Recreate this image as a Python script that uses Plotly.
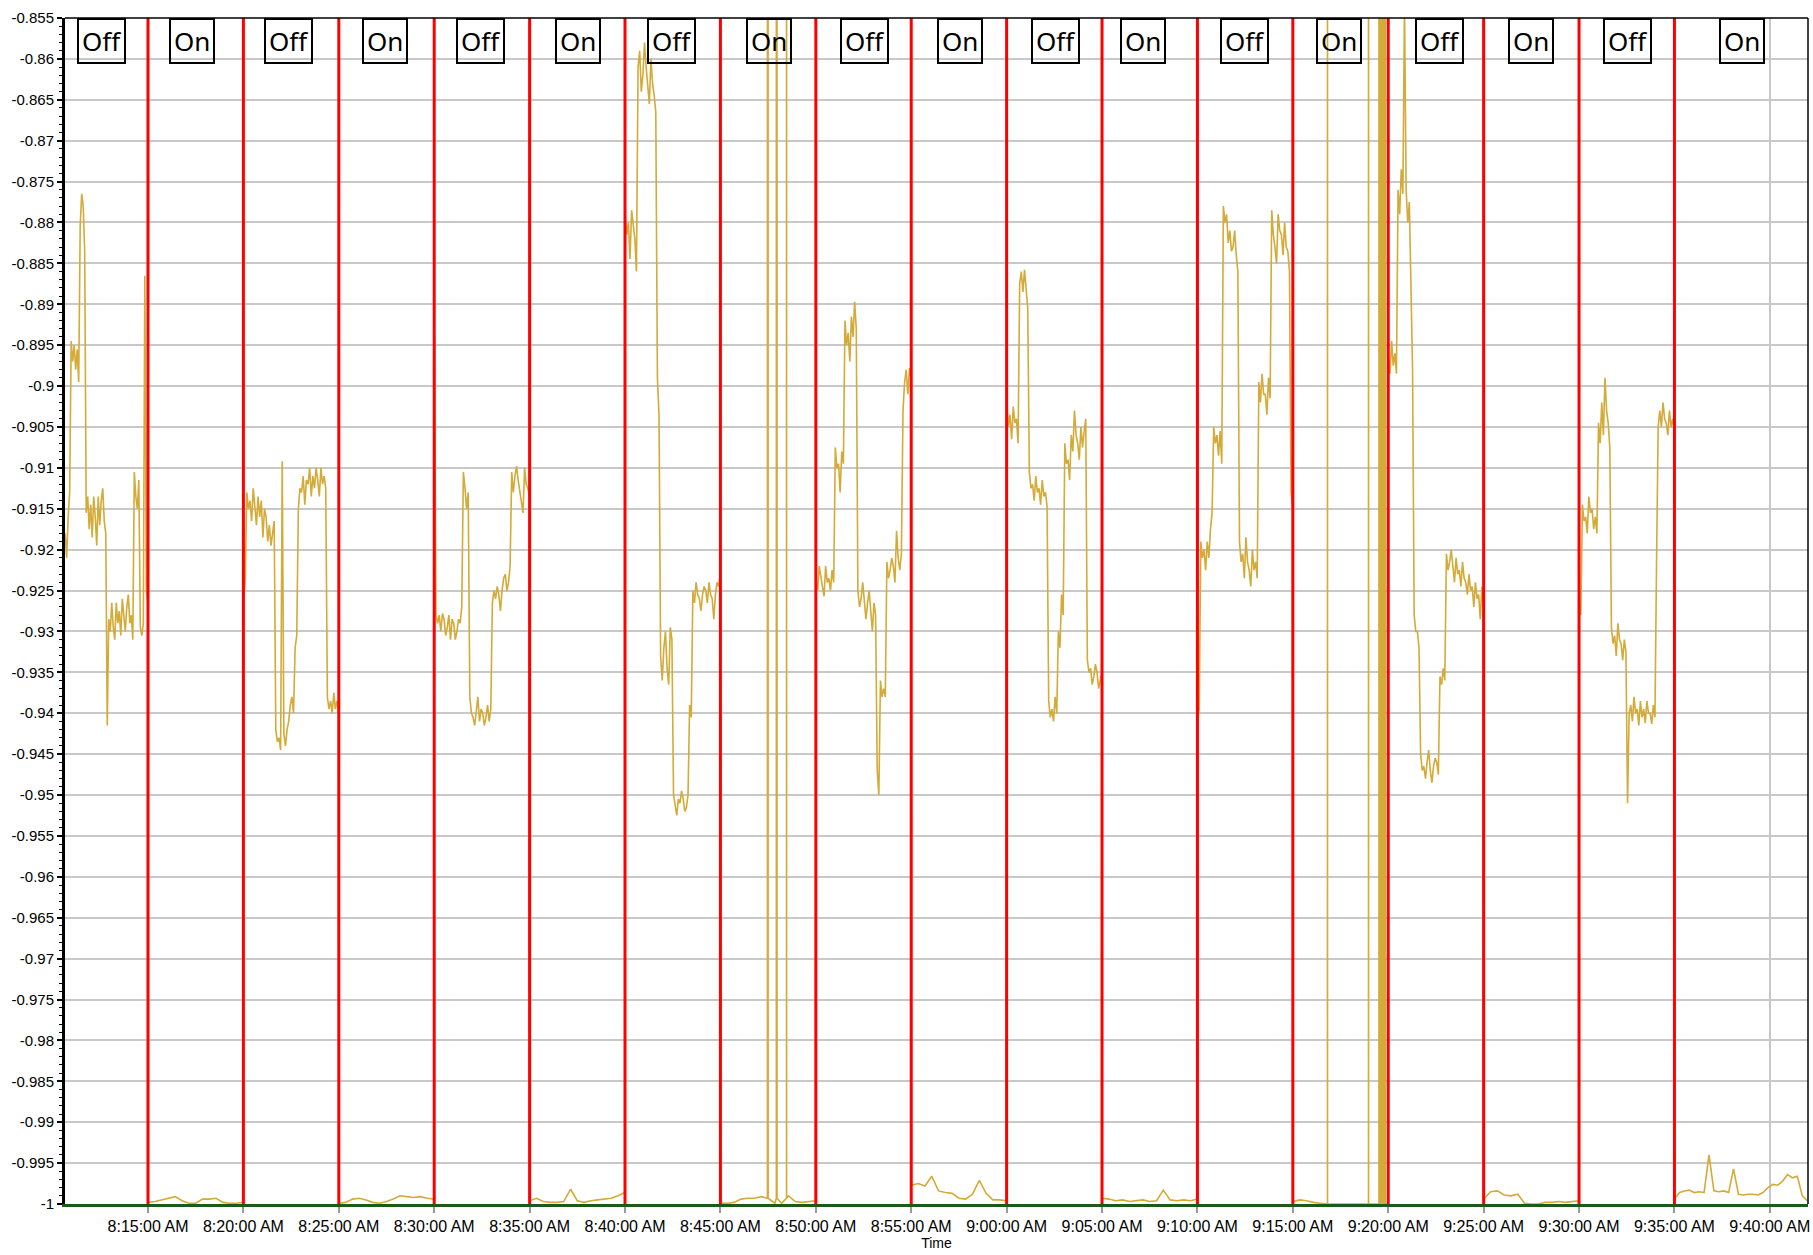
import numpy as np
import pandas as pd
import plotly.graph_objects as go

DATE = "2024-01-01 "

# ---- segment boundaries (Off / On periods) ----
boundaries = ["08:10:39", "08:15:00", "08:20:00", "08:25:00", "08:30:00", "08:35:00",
              "08:40:00", "08:45:00", "08:50:00", "08:55:00", "09:00:00", "09:05:00",
              "09:10:00", "09:15:00", "09:20:00", "09:25:00", "09:30:00", "09:35:00",
              "09:41:58"]
switch_times = boundaries[1:-1]

# ---- series values per period ----
off1 = [-0.918, -0.921, -0.916, -0.913, -0.8945, -0.897, -0.895, -0.898, -0.8955, -0.8995,
        -0.8805, -0.8765, -0.878, -0.8835, -0.9155, -0.9135, -0.9175, -0.9145, -0.9185, -0.9135,
        -0.916, -0.9195, -0.9135, -0.917, -0.914, -0.9125, -0.9165, -0.918, -0.9415, -0.9285,
        -0.930, -0.9265, -0.9295, -0.931, -0.9265, -0.929, -0.9275, -0.9305, -0.926, -0.9285,
        -0.930, -0.927, -0.9255, -0.929, -0.928, -0.931, -0.9105, -0.9135, -0.915, -0.9115,
        -0.9295, -0.9305, -0.929, -0.8865, -0.925, -0.9265]
on1 = [-0.9998, -0.9997, -0.9995, -0.9993, -0.9991, -0.9996, -0.9999, -0.9999, -0.9994,
       -0.9994, -0.9993, -0.9998, -0.9999, -0.9999, -0.9998]
off2 = [-0.926, -0.924, -0.913, -0.915, -0.914, -0.9165, -0.9125, -0.915, -0.917, -0.9135,
        -0.916, -0.914, -0.9185, -0.915, -0.916, -0.919, -0.917, -0.9195, -0.918, -0.9165,
        -0.942, -0.9435, -0.943, -0.9445, -0.9092, -0.9425, -0.944, -0.942, -0.941, -0.939,
        -0.938, -0.940, -0.932, -0.9305, -0.915, -0.9125, -0.913, -0.911, -0.9145, -0.9115,
        -0.912, -0.910, -0.9135, -0.911, -0.9125, -0.910, -0.9115, -0.9135, -0.910, -0.912,
        -0.911, -0.9125, -0.938, -0.9395, -0.9385, -0.940, -0.9375, -0.9395, -0.9385, -0.940]
on2 = [-0.9999, -0.9998, -0.9994, -0.9993, -0.9995, -0.9998, -0.9999, -0.9997, -0.9994,
       -0.9990, -0.9991, -0.9992, -0.9991, -0.9993, -0.9994]
off3 = [-0.8935, -0.928, -0.929, -0.928, -0.930, -0.9278, -0.9285, -0.9305, -0.9295, -0.928,
        -0.931, -0.9285, -0.929, -0.931, -0.930, -0.9285, -0.929, -0.927, -0.9105, -0.9125,
        -0.915, -0.913, -0.938, -0.940, -0.9405, -0.9415, -0.9395, -0.938, -0.941, -0.9395,
        -0.940, -0.9415, -0.9405, -0.939, -0.941, -0.9395, -0.9265, -0.925, -0.926, -0.9245,
        -0.9255, -0.9275, -0.925, -0.9235, -0.923, -0.925, -0.924, -0.922, -0.9105, -0.913,
        -0.911, -0.9098, -0.9115, -0.913, -0.914, -0.9155, -0.910, -0.912, -0.9125, -0.9135]
on3 = [-0.9996, -0.9993, -0.9997, -0.9998, -0.9998, -0.9997, -0.9982, -0.9996, -0.9998,
       -0.9996, -0.9995, -0.9994, -0.9993, -0.9990, -0.9986]
off4 = [-0.879, -0.8815, -0.880, -0.8845, -0.8785, -0.8805, -0.882, -0.886, -0.861, -0.859,
        -0.864, -0.862, -0.858, -0.861, -0.863, -0.8655, -0.860, -0.863, -0.8645, -0.8665,
        -0.899, -0.9035, -0.933, -0.936, -0.932, -0.930, -0.9345, -0.9365, -0.9295, -0.931,
        -0.950, -0.9515, -0.9525, -0.9505, -0.951, -0.9495, -0.9505, -0.952, -0.9515, -0.950,
        -0.939, -0.9405, -0.925, -0.9265, -0.924, -0.9255, -0.926, -0.9275, -0.9255, -0.9245,
        -0.925, -0.9265, -0.924, -0.9255, -0.926, -0.9285, -0.9255, -0.924, -0.9245, -0.923]
on4 = [-0.9999, -0.9999, -0.9998, -0.9994, -0.9993, -0.9993, -0.9991, -0.9993, -0.9999,
       -0.9999, -0.9990, -0.9997, -0.9998, -0.9997, -0.9996]
off5 = [-0.9235, -0.925, -0.922, -0.9235, -0.9245, -0.9257, -0.922, -0.924, -0.9235, -0.925,
        -0.9225, -0.924, -0.9075, -0.910, -0.9095, -0.913, -0.908, -0.9095, -0.892, -0.895,
        -0.8935, -0.897, -0.8915, -0.894, -0.8897, -0.893, -0.925, -0.927, -0.926, -0.924,
        -0.926, -0.9285, -0.9265, -0.925, -0.9275, -0.930, -0.9265, -0.928, -0.947, -0.950,
        -0.936, -0.938, -0.937, -0.938, -0.9215, -0.9235, -0.9225, -0.921, -0.922, -0.924,
        -0.9177, -0.921, -0.9225, -0.9205, -0.903, -0.8995, -0.898, -0.901, -0.8978, -0.899]
on5 = [-0.9977, -0.9975, -0.9978, -0.9966, -0.9984, -0.9986, -0.9987, -0.9993, -0.9994,
       -0.9988, -0.9971, -0.9987, -0.9995, -0.9995, -0.9996]
off6 = [-0.902, -0.905, -0.9035, -0.9065, -0.9025, -0.9045, -0.904, -0.907, -0.8875, -0.886,
        -0.8885, -0.8858, -0.888, -0.8905, -0.9105, -0.9125, -0.912, -0.914, -0.911, -0.913,
        -0.9125, -0.9145, -0.9115, -0.9135, -0.913, -0.9147, -0.9385, -0.9405, -0.9395, -0.941,
        -0.938, -0.940, -0.930, -0.932, -0.9255, -0.928, -0.907, -0.9095, -0.909, -0.9115,
        -0.906, -0.908, -0.903, -0.906, -0.907, -0.909, -0.905, -0.9075, -0.9055, -0.904,
        -0.9335, -0.935, -0.9345, -0.9365, -0.9355, -0.934, -0.935, -0.937, -0.936, -0.935]
on6 = [-0.9993, -0.9994, -0.9996, -0.9995, -0.9997, -0.9996, -0.9995, -0.9997, -0.9996,
       -0.9983, -0.9995, -0.9996, -0.9995, -0.9996, -0.9994]
off7 = [-0.941, -0.9395, -0.919, -0.921, -0.920, -0.9225, -0.919, -0.921, -0.9175, -0.9155,
        -0.905, -0.907, -0.906, -0.9085, -0.9055, -0.9095, -0.878, -0.880, -0.879, -0.8825,
        -0.881, -0.8835, -0.883, -0.881, -0.884, -0.886, -0.919, -0.9215, -0.9205, -0.9235,
        -0.9185, -0.9215, -0.9225, -0.9245, -0.920, -0.9225, -0.9215, -0.9235, -0.8995, -0.902,
        -0.8985, -0.901, -0.901, -0.9035, -0.899, -0.9015, -0.8785, -0.8815, -0.883, -0.885,
        -0.879, -0.881, -0.8815, -0.884, -0.880, -0.883, -0.8835, -0.886, -0.913, -0.915]
on7 = [-0.9997, -0.9995, -0.9996, -0.9998, -0.9999, -1.0, -1.0, -1.0, -1.0, -1.0,
       -1.0, -1.0, -1.0, -1.0, -1.0]
off8 = [-0.8965, -0.8985, -0.8945, -0.8975, -0.896, -0.8985, -0.876, -0.879, -0.8735, -0.8765,
        -0.853, -0.876, -0.880, -0.8775, -0.888, -0.898, -0.928, -0.930, -0.930, -0.932,
        -0.945, -0.947, -0.9465, -0.948, -0.946, -0.9445, -0.947, -0.9485, -0.9465, -0.9455,
        -0.946, -0.9475, -0.9355, -0.9365, -0.9345, -0.936, -0.9205, -0.9225, -0.9215, -0.920,
        -0.922, -0.924, -0.921, -0.923, -0.9225, -0.9245, -0.9215, -0.9235, -0.924, -0.9255,
        -0.923, -0.925, -0.9245, -0.927, -0.924, -0.926, -0.9255, -0.9285, -0.9245, -0.927]
on8 = [-0.9994, -0.9985, -0.9984, -0.9989, -0.9990, -0.9988, -0.9999, -1.0, -1.0,
       -0.9998, -0.9998, -0.9997, -0.9998, -0.9997, -0.9996]
off9 = [-0.9265, -0.928, -0.9145, -0.9165, -0.916, -0.918, -0.9135, -0.9155, -0.915, -0.9175,
        -0.916, -0.918, -0.9045, -0.907, -0.902, -0.906, -0.899, -0.903, -0.9045, -0.9075,
        -0.9295, -0.9315, -0.9305, -0.933, -0.929, -0.931, -0.9315, -0.9335, -0.931, -0.9325,
        -0.951, -0.940, -0.939, -0.941, -0.938, -0.940, -0.9395, -0.9415, -0.9385, -0.9405,
        -0.9395, -0.9412, -0.9385, -0.940, -0.940, -0.9413, -0.939, -0.9405, -0.9215, -0.905,
        -0.903, -0.905, -0.902, -0.904, -0.9045, -0.906, -0.903, -0.905, -0.904, -0.9055]
on9 = [-0.9994, -0.9986, -0.9984, -0.9983, -0.9986, -0.9985, -0.9986, -0.9940, -0.9984,
       -0.9985, -0.9984, -0.9986, -0.9957, -0.9988, -0.9989, -0.9988, -0.9988, -0.9989,
       -0.9986, -0.9980, -0.9976, -0.9977, -0.9972, -0.9964, -0.9968, -0.9966, -0.9990,
       -0.9996]

# off-scale spikes during On periods (with their baseline points)
spike_times = ["08:47:27.9", "08:47:28.0", "08:47:28.1",
               "08:47:55.9", "08:47:56.0", "08:47:57.0", "08:47:58.0", "08:47:58.1",
               "08:48:27.9", "08:48:28.0", "08:48:28.1",
               "09:16:48.9", "09:16:49.0", "09:16:49.1",
               "09:18:57.9", "09:18:58.0", "09:18:58.1",
               "09:19:30.9", "09:19:31", "09:19:32", "09:19:33", "09:19:34", "09:19:35",
               "09:19:36", "09:19:37", "09:19:38", "09:19:39", "09:19:40", "09:19:41",
               "09:19:42", "09:19:43", "09:19:44", "09:19:45", "09:19:46", "09:19:47",
               "09:19:48", "09:19:49", "09:19:50", "09:19:51", "09:19:51.1"]
spike_values = [-0.9993, 5, -0.9993,
                -0.9993, 5, -0.9993, 5, -0.9993,
                -0.9993, 5, -0.9993,
                -1.0, 5, -1.0,
                -1.0, 5, -1.0,
                -1.0, 5, -1.0, 5, -1.0, 5,
                -1.0, 5, -1.0, 5, -1.0, 5,
                -1.0, 5, -1.0, 5, -1.0, 5,
                -1.0, 5, -1.0, 5, -1.0]

# period labels
period_labels = ["Off", "On", "Off", "On", "Off", "On", "Off", "On", "Off", "On",
                 "Off", "On", "Off", "On", "Off", "On", "Off", "On"]
label_times = ["08:12:35", "08:17:18", "08:22:23", "08:27:25", "08:32:27", "08:37:32",
               "08:42:27", "08:47:32", "08:52:34", "08:57:32", "09:02:34", "09:07:10",
               "09:12:29", "09:17:24", "09:22:40", "09:27:28", "09:32:33", "09:38:33"]

# axis ticks
x_tick_times = ["08:15:00", "08:20:00", "08:25:00", "08:30:00", "08:35:00", "08:40:00",
                "08:45:00", "08:50:00", "08:55:00", "09:00:00", "09:05:00", "09:10:00",
                "09:15:00", "09:20:00", "09:25:00", "09:30:00", "09:35:00", "09:40:00"]
x_tick_labels = ["8:15:00 AM", "8:20:00 AM", "8:25:00 AM", "8:30:00 AM", "8:35:00 AM",
                 "8:40:00 AM", "8:45:00 AM", "8:50:00 AM", "8:55:00 AM", "9:00:00 AM",
                 "9:05:00 AM", "9:10:00 AM", "9:15:00 AM", "9:20:00 AM", "9:25:00 AM",
                 "9:30:00 AM", "9:35:00 AM", "9:40:00 AM"]
y_ticks = [-0.855, -0.86, -0.865, -0.87, -0.875, -0.88, -0.885, -0.89, -0.895, -0.9,
           -0.905, -0.91, -0.915, -0.92, -0.925, -0.93, -0.935, -0.94, -0.945, -0.95,
           -0.955, -0.96, -0.965, -0.97, -0.975, -0.98, -0.985, -0.99, -0.995, -1.0]

# ---- build the series ----
segments = [off1, on1, off2, on2, off3, on3, off4, on4, off5, on5,
            off6, on6, off7, on7, off8, on8, off9, on9]
xs, ys = [], []
for i, vals in enumerate(segments):
    t0 = pd.Timestamp(DATE + boundaries[i])
    t1 = pd.Timestamp(DATE + boundaries[i + 1])
    dur = (t1 - t0).total_seconds()
    offs = np.linspace(0.5, dur - 0.5, len(vals))
    for o, v in zip(offs, vals):
        xs.append(t0 + pd.Timedelta(seconds=float(o)))
        ys.append(v)
for t, v in zip(spike_times, spike_values):
    xs.append(pd.Timestamp(DATE + t))
    ys.append(v)
df = pd.DataFrame({"t": xs, "v": ys}).sort_values("t", kind="stable")

fig = go.Figure()
fig.add_trace(go.Scatter(x=df["t"], y=df["v"], mode="lines",
                         line=dict(color="#D4AA38", width=1.6),
                         hoverinfo="skip", showlegend=False))

shapes = []
for t in switch_times:
    shapes.append(dict(type="line", xref="x", yref="paper", x0=DATE + t, x1=DATE + t,
                       y0=0, y1=1, line=dict(color="#FF0000", width=3), layer="above"))
# frame: top and right borders
shapes.append(dict(type="line", xref="paper", yref="paper", x0=0, x1=1, y0=1, y1=1,
                   line=dict(color="black", width=1.5), layer="above"))
shapes.append(dict(type="line", xref="paper", yref="paper", x0=1, x1=1, y0=0, y1=1,
                   line=dict(color="black", width=1.5), layer="above"))

annotations = []
for lab, t in zip(period_labels, label_times):
    annotations.append(dict(x=DATE + t, y=1, xref="x", yref="paper", yanchor="top",
                            xanchor="center", text=lab, showarrow=False,
                            font=dict(family="Noto Sans", size=26, color="black"),
                            bordercolor="black", borderwidth=2, borderpad=3,
                            bgcolor="rgba(0,0,0,0)"))

minor_vals = [round(v, 3) for v in np.arange(-1.0, -0.8549, 0.001)]

fig.update_layout(
    width=1813, height=1255,
    margin=dict(l=65, r=5, t=18, b=51),
    paper_bgcolor="white", plot_bgcolor="white",
    font=dict(family="Liberation Sans", color="black"),
    shapes=shapes, annotations=annotations,
    xaxis=dict(
        range=[DATE + "08:10:39", DATE + "09:42:00"], automargin=False,
        tickmode="array", tickvals=[DATE + t for t in x_tick_times], ticktext=x_tick_labels,
        showgrid=True, gridcolor="#c8c8c8", gridwidth=1.5,
        ticks="outside", ticklen=6, tickcolor="#9a9a9a", tickwidth=1.5,
        tickfont=dict(size=16, family="Liberation Sans", color="black"),
        showline=True, linecolor="#1c5a1c", linewidth=2.5, zeroline=False,
        title=dict(text="Time", font=dict(size=14, family="Liberation Sans"), standoff=4),
    ),
    yaxis=dict(
        range=[-1.0, -0.855], automargin=False,
        tickmode="array", tickvals=y_ticks, ticktext=[f"{v:g}" for v in y_ticks],
        showgrid=True, gridcolor="#c8c8c8", gridwidth=1.5,
        ticks="outside", ticklen=5, tickcolor="black", tickwidth=1.5,
        tickfont=dict(size=15, family="Liberation Sans", color="black"),
        showline=True, linecolor="black", linewidth=3, zeroline=False,
        minor=dict(tickmode="array", tickvals=minor_vals, ticks="outside", ticklen=3,
                   tickcolor="black", tickwidth=1, showgrid=False),
    ),
)

fig.write_html("out.html",
               config={"displayModeBar": False},
               post_script="document.body.style.margin='0px';"
                           "document.body.style.overflow='hidden';")
